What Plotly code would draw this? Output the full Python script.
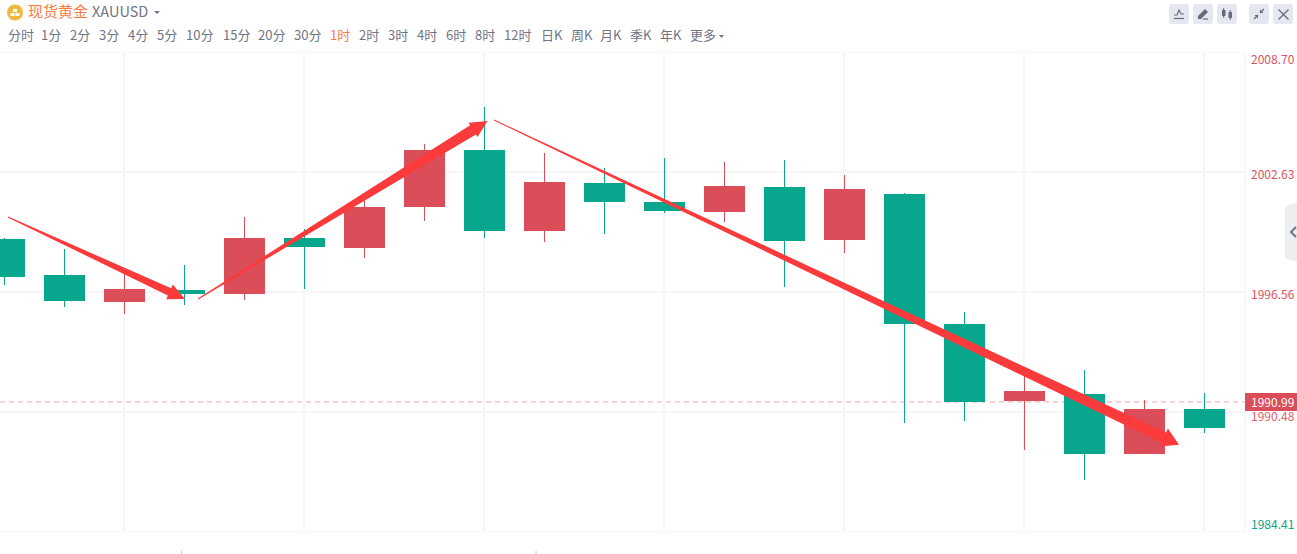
import plotly.graph_objects as go

# ---- data (prices) ----
candle_index = list(range(21))
opens  = [1999.24,1997.42,1996.05,1996.66,1996.45,1999.29,1998.78,2000.86,2003.74,1999.64,2002.07,2001.11,2000.60,2001.87,1999.19,2001.51,1994.94,1991.04,1991.39,1988.36,1990.63]
highs  = [1999.29,1998.73,1997.57,1997.92,2000.35,1999.74,2001.31,2004.04,2005.92,2003.59,2002.83,2003.34,2003.13,2003.23,2002.48,2001.56,1995.54,1992.36,1992.61,1991.09,1991.44]
lows   = [1996.91,1995.80,1995.44,1995.90,1996.15,1996.71,1998.28,2000.15,1999.29,1999.09,1999.49,2000.55,2000.10,1996.81,1998.53,1989.93,1990.03,1988.56,1987.04,1988.36,1989.42]
closes = [1997.31,1996.10,1996.71,1996.45,1999.29,1998.83,2000.86,2003.74,1999.64,2002.12,2001.11,2000.65,2001.92,1999.14,2001.77,1994.94,1990.99,1991.55,1988.36,1990.63,1989.67]

price_ticks = [2008.70, 2002.63, 1996.56, 1990.48, 1984.41]
last_price = 1990.99
grid_candles = [2, 5, 8, 11, 14, 17, 20]

# trend arrows: (tail candle position, tail price, tip position, tip price, head len, head half width, neck width)
arrows = [
    (0.058, 2000.35, 3.008, 1996.20, 17, 8, 8),
    (3.225, 1996.20, 8.050, 2005.21, 17, 8.5, 11),
    (8.158, 2005.26, 19.575, 1988.82, 17, 10, 11),
]

menu_labels = ["分时","1分","2分","3分","4分","5分","10分","15分","20分","30分","1时","2时","3时","4时","6时","8时","12时","日K","周K","月K","季K","年K","更多"]
menu_left   = [7,40,69,98,127,156,185,222,257,293,329,358,387,416,445,474,503,540,569.5,599,629,659,689]

# ---- style ----
GREEN, RED = "#08a68c", "#db4d59"
GRID = "#f6f6f9"
FONT = "Noto Sans CJK SC"
W, H = 1297, 554
L, R, T, B = 0, 1245, 52, 532
X_RANGE = [-0.075, 20.675]
Y_RANGE = [price_ticks[-1], price_ticks[0]]
px_x = (R - L) / (X_RANGE[1] - X_RANGE[0])
px_y = (B - T) / (Y_RANGE[1] - Y_RANGE[0])

def fx(p): return (p - L) / (R - L)
def fy(p): return (B - p) / (B - T)

shapes, annos = [], []

def arrow_path(x0, y0, x1, y1, hl, hw, nw):
    dx, dy = (x1 - x0) * px_x, (y1 - y0) * px_y
    n = (dx * dx + dy * dy) ** 0.5
    ux, uy = dx / n, dy / n
    vx, vy = -uy, ux
    def pt(a, b):
        return f"{x1 + (a * ux + b * vx) / px_x:.4f},{y1 + (a * uy + b * vy) / px_y:.4f}"
    pts = [pt(-n, 0.5), pt(-hl, nw / 2), pt(-hl, hw), pt(0, 0), pt(-hl, -hw), pt(-hl, -nw / 2), pt(-n, -0.5)]
    return "M" + " L".join(pts) + " Z"

# vertical grid
for c in grid_candles:
    shapes.append(dict(type="line", xref="x", yref="paper", x0=c - 0.008, x1=c - 0.008, y0=0, y1=1,
                       line=dict(color=GRID, width=2), layer="below"))
# horizontal grid
for p in price_ticks:
    shapes.append(dict(type="line", xref="paper", yref="y", x0=0, x1=1, y0=p, y1=p,
                       line=dict(color=GRID, width=2), layer="below"))
# right axis rule
shapes.append(dict(type="line", xref="paper", yref="paper", x0=1, x1=1, y0=fy(532), y1=fy(52),
                   line=dict(color="#eef0f6", width=1)))
# last price line
shapes.append(dict(type="line", xref="paper", yref="y", x0=0, x1=1, y0=last_price, y1=last_price,
                   line=dict(color="#f4a3a8", width=1, dash="5px,4px"), layer="below"))
# arrows
for a in arrows:
    shapes.append(dict(type="path", xref="x", yref="y", path=arrow_path(*a),
                       fillcolor="#fb3a3c", line=dict(width=0), layer="above"))

def rect(x0, y0, x1, y1, color, r=0):
    if r:
        path = (f"M{fx(x0+r)},{fy(y0)} L{fx(x1-r)},{fy(y0)} Q{fx(x1)},{fy(y0)} {fx(x1)},{fy(y0+r)} "
                f"L{fx(x1)},{fy(y1-r)} Q{fx(x1)},{fy(y1)} {fx(x1-r)},{fy(y1)} L{fx(x0+r)},{fy(y1)} "
                f"Q{fx(x0)},{fy(y1)} {fx(x0)},{fy(y1-r)} L{fx(x0)},{fy(y0+r)} Q{fx(x0)},{fy(y0)} {fx(x0+r)},{fy(y0)} Z")
        shapes.append(dict(type="path", xref="paper", yref="paper", path=path, fillcolor=color, line=dict(width=0)))
    else:
        shapes.append(dict(type="rect", xref="paper", yref="paper", x0=fx(x0), x1=fx(x1), y0=fy(y1), y1=fy(y0),
                           fillcolor=color, line=dict(width=0)))

def poly(pts, fill=None, line=None, width=1):
    path = "M" + " L".join(f"{fx(a)},{fy(b)}" for a, b in pts)
    if fill:
        path += " Z"
    shapes.append(dict(type="path", xref="paper", yref="paper", path=path,
                       fillcolor=fill or "rgba(0,0,0,0)",
                       line=dict(color=line or "rgba(0,0,0,0)", width=width if line else 0)))

def text(x, y, s, color, size, anchor="left", **kw):
    annos.append(dict(xref="paper", yref="paper", x=fx(x), y=fy(y), text=s, showarrow=False,
                      xanchor=anchor, yanchor="middle", font=dict(family=FONT, size=size, color=color),
                      borderpad=0, **kw))

# header
shapes.append(dict(type="circle", xref="paper", yref="paper", x0=fx(7), x1=fx(23), y0=fy(20.5), y1=fy(4.5),
                   fillcolor="#efb93f", line=dict(width=0)))
rect(13, 9, 17, 12, "#ffffff"); rect(10.5, 13, 14.5, 16, "#ffffff"); rect(15.5, 13, 19.5, 16, "#ffffff")
text(27, 10, "现货黄金", "#fa7a45", 15)
text(91, 10, "XAUUSD", "#6f7585", 14.5)
poly([(154, 11), (160, 11), (157, 14)], fill="#6f7585")
for s, x in zip(menu_labels, menu_left):
    text(x, 34.5, s, "#fa7a45" if s == "1时" else "#6f7585", 13)
poly([(719, 35), (724, 35), (721.5, 38)], fill="#6f7585")

# toolbar buttons
for x0 in [1169, 1193, 1217, 1249, 1273]:
    rect(x0, 4, x0 + 20, 24, "#e5e8f0", r=3)
G = "#666c7c"
poly([(1174, 15), (1177, 15), (1179, 10), (1181, 14), (1184, 14)], line=G, width=1.2)
poly([(1174, 18.5), (1184, 18.5)], line=G, width=1.2)
poly([(1198, 16), (1205, 9), (1208, 12), (1201, 19), (1198, 19)], fill=G)
poly([(1203, 19), (1208, 19)], line=G, width=1.2)
rect(1222, 10, 1225.5, 16, G); poly([(1223.7, 8), (1223.7, 18)], line=G, width=1)
rect(1228.5, 12, 1232, 18, G); poly([(1230.2, 10), (1230.2, 20)], line=G, width=1)
poly([(1254, 19), (1258, 15)], line=G, width=1.2); poly([(1258, 15), (1254.5, 15), (1258, 18.5)], fill=G)
poly([(1264, 9), (1260, 13)], line=G, width=1.2); poly([(1260, 13), (1263.5, 13), (1260, 9.5)], fill=G)
poly([(1278.5, 9.5), (1288.5, 19.5)], line=G, width=1.2)
poly([(1288.5, 9.5), (1278.5, 19.5)], line=G, width=1.2)

# side collapse tab
poly([(1285, 207), (1297, 202), (1297, 262), (1285, 258)], fill="#eceef2")
poly([(1296, 227), (1291, 232), (1296, 237)], line="#6d7486", width=2)

# price labels
for p, y, col in [(price_ticks[0], 59, "#e0505e"), (price_ticks[1], 173, "#e0505e"),
                  (price_ticks[2], 293, "#e0505e"), (price_ticks[3], 415, "#e0606c"),
                  (price_ticks[4], 523, GREEN)]:
    text(1250, y, f"{p:.2f}", col, 12)
rect(1245, 393, 1297, 411, RED)
text(1250, 401.5, f"{last_price:.2f}", "#ffffff", 12)

# clipped tops of the time labels at the bottom edge
poly([(181.5, 551), (181.5, 554)], line="#c8c8c8", width=1)
poly([(536, 551), (536, 554)], line="#c8c8c8", width=1)

# candles: wick bars and body bars, coloured by direction
colors = [RED if c >= o else GREEN for o, c in zip(opens, closes)]
body_low = [min(o, c) for o, c in zip(opens, closes)]
body_high = [max(o, c) for o, c in zip(opens, closes)]

fig = go.Figure()
fig.add_bar(x=candle_index, base=lows, y=[h - l for h, l in zip(highs, lows)], width=1 / 60,
            marker=dict(color=colors, line=dict(width=0)), showlegend=False, hoverinfo="skip")
fig.add_bar(x=candle_index, base=body_low, y=[h - l for h, l in zip(body_high, body_low)], width=41 / 60,
            marker=dict(color=colors, line=dict(width=0)), showlegend=False, hoverinfo="skip")
fig.update_layout(
    width=W, height=H, margin=dict(l=L, r=W - R, t=T, b=H - B, pad=0),
    barmode="overlay",
    paper_bgcolor="#ffffff", plot_bgcolor="#ffffff", showlegend=False,
    shapes=shapes, annotations=annos,
    xaxis=dict(range=X_RANGE, showgrid=False, zeroline=False, showticklabels=False, ticks="", fixedrange=True),
    yaxis=dict(range=Y_RANGE, showgrid=False, zeroline=False, showticklabels=False, ticks="", fixedrange=True),
)
fig.write_html("out.html", config=dict(displayModeBar=False),
               post_script="document.body.style.margin='0';document.body.style.overflow='hidden';")
